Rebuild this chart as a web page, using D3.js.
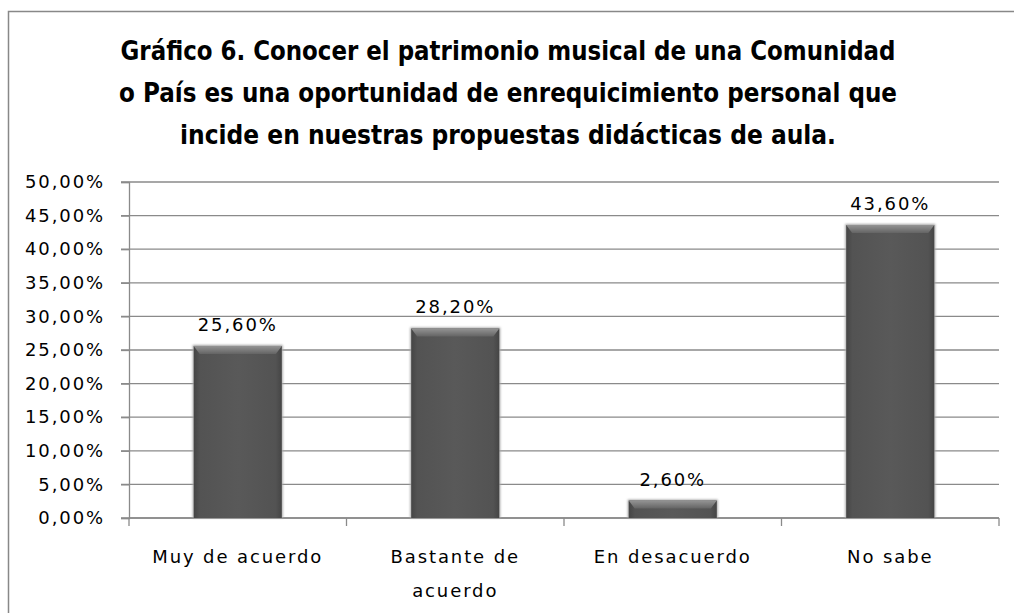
<!DOCTYPE html>
<html>
<head>
<meta charset="utf-8">
<script src="https://cdn.jsdelivr.net/npm/d3@7"></script>
<style>
  body { margin: 0; background: #fff; }
  svg { display: block; }
  text { font-family: "DejaVu Sans", sans-serif; fill: #000; }
</style>
</head>
<body>
<div id="chart"></div>
<script>
// data
const categories = ["Muy de acuerdo", "Bastante de acuerdo", "En desacuerdo", "No sabe"];
const values = [25.6, 28.2, 2.6, 43.6];
const yTicks = [0, 5, 10, 15, 20, 25, 30, 35, 40, 45, 50];
const titleLines = [
    "Gráfico 6. Conocer el patrimonio musical de una Comunidad",
    "o País es una oportunidad de enrequicimiento personal que",
    "incide en nuestras propuestas didácticas de aula."
];
const titleWidths = [775, 778, 656];

const W = 1014, H = 613;
const plotLeft = 129, plotRight = 999, plotTop = 182, plotBottom = 518;
const labelSize = 18, labelSpacing = 1.9;

const fmt = (v) => v.toFixed(2).replace(".", ",") + "%";

const svg = d3.select("#chart")
    .append("svg")
    .attr("width", W)
    .attr("height", H);

const defs = svg.append("defs");

const body = defs.append("linearGradient").attr("id", "barBody")
    .attr("x1", 0).attr("x2", 1).attr("y1", 0).attr("y2", 0);
[[0, "#454545"], [0.07, "#535353"], [0.5, "#595959"], [0.93, "#535353"], [1, "#454545"]]
    .forEach(([o, c]) => body.append("stop").attr("offset", o).attr("stop-color", c));

const bevel = defs.append("linearGradient").attr("id", "barTop")
    .attr("x1", 0).attr("x2", 0).attr("y1", 0).attr("y2", 1);
[[0, "#949494"], [1, "#646464"]]
    .forEach(([o, c]) => bevel.append("stop").attr("offset", o).attr("stop-color", c));

defs.append("filter").attr("id", "glow")
    .attr("x", "-20%").attr("y", "-20%").attr("width", "140%").attr("height", "140%")
    .append("feGaussianBlur").attr("stdDeviation", 1.2);

// outer frame
svg.append("rect")
    .attr("x", 8.5).attr("y", 11.5)
    .attr("width", 1030).attr("height", 640)
    .attr("fill", "none")
    .attr("stroke", "#888")
    .attr("stroke-width", 1.5);

// title
svg.append("g").selectAll("text")
    .data(titleLines)
    .join("text")
    .attr("x", 508)
    .attr("y", (d, i) => 60 + i * 42)
    .attr("text-anchor", "middle")
    .attr("font-family", "'Liberation Sans Narrow', 'Open Sans', sans-serif")
    .attr("font-size", 27)
    .attr("font-weight", "bold")
    .attr("textLength", (d, i) => titleWidths[i])
    .attr("lengthAdjust", "spacingAndGlyphs")
    .text((d) => d);

const x = d3.scaleBand()
    .domain(categories)
    .range([plotLeft, plotRight])
    .paddingInner(0.595)
    .paddingOuter(0.2975);

const y = d3.scaleLinear()
    .domain([0, 50])
    .range([plotBottom, plotTop]);

// gridlines
svg.append("g")
    .selectAll("line")
    .data(yTicks)
    .join("line")
    .attr("x1", plotLeft - 8)
    .attr("x2", plotRight)
    .attr("y1", (d) => y(d))
    .attr("y2", (d) => y(d))
    .attr("stroke", "#8a8a8a")
    .attr("stroke-width", 1.3);

// y axis
const yAxis = svg.append("g")
    .attr("transform", `translate(${plotLeft},0)`)
    .call(d3.axisLeft(y).tickValues(yTicks).tickSize(8).tickPadding(16).tickFormat(fmt));
yAxis.select(".domain").attr("stroke", "#8a8a8a").attr("stroke-width", 1.3);
yAxis.selectAll(".tick line").attr("stroke", "#8a8a8a").attr("stroke-width", 1.3);
yAxis.selectAll(".tick text")
    .attr("font-size", labelSize)
    .attr("letter-spacing", labelSpacing)
    .attr("font-family", "DejaVu Sans")
    .attr("fill", "#000");

// x axis baseline and ticks at band edges
const gap = (x.step() - x.bandwidth()) / 2;
const edges = categories.map((c) => x(c) - gap).concat([plotRight]);
svg.append("line")
    .attr("x1", plotLeft).attr("x2", plotRight)
    .attr("y1", plotBottom).attr("y2", plotBottom)
    .attr("stroke", "#8a8a8a").attr("stroke-width", 1.3);
svg.append("g").selectAll("line")
    .data(edges)
    .join("line")
    .attr("x1", (d) => d).attr("x2", (d) => d)
    .attr("y1", plotBottom).attr("y2", plotBottom + 8)
    .attr("stroke", "#8a8a8a").attr("stroke-width", 1.3);

// bars
const bars = svg.append("g")
    .selectAll("g")
    .data(categories.map((c, i) => ({ cat: c, value: values[i] })))
    .join("g");

bars.append("rect")
    .attr("x", (d) => x(d.cat) - 1)
    .attr("y", (d) => y(d.value) - 1)
    .attr("width", x.bandwidth() + 2)
    .attr("height", (d) => plotBottom - y(d.value) + 1)
    .attr("fill", "#a8a8a8")
    .attr("filter", "url(#glow)");

bars.append("rect")
    .attr("x", (d) => x(d.cat))
    .attr("y", (d) => y(d.value))
    .attr("width", x.bandwidth())
    .attr("height", (d) => plotBottom - y(d.value))
    .attr("fill", "url(#barBody)");

bars.append("path")
    .attr("d", (d) => {
        const x0 = x(d.cat), x1 = x0 + x.bandwidth(), t = y(d.value);
        const h = Math.min(8, (plotBottom - t) / 2);
        return `M${x0},${t}L${x1},${t}L${x1 - 6},${t + h}L${x0 + 6},${t + h}Z`;
    })
    .attr("fill", "url(#barTop)");

// value labels
bars.append("text")
    .attr("x", (d) => x(d.cat) + x.bandwidth() / 2)
    .attr("y", (d) => y(d.value) - 15)
    .attr("text-anchor", "middle")
    .attr("font-size", labelSize)
    .attr("letter-spacing", labelSpacing)
    .text((d) => fmt(d.value));

// category labels, wrapped when wider than the band
const catLabels = svg.append("g").selectAll("text")
    .data(categories)
    .join("text")
    .attr("x", (d) => x(d) + x.bandwidth() / 2)
    .attr("y", 563)
    .attr("text-anchor", "middle")
    .attr("font-size", labelSize)
    .attr("letter-spacing", labelSpacing);

catLabels.each(function (d) {
    const t = d3.select(this);
    const words = d.split(" ");
    let line = [];
    let tspan = t.append("tspan").attr("x", t.attr("x")).attr("dy", 0);
    words.forEach((w) => {
        line.push(w);
        tspan.text(line.join(" "));
        if (tspan.node().getComputedTextLength() > 180 && line.length > 1) {
            line.pop();
            tspan.text(line.join(" "));
            line = [w];
            tspan = t.append("tspan").attr("x", t.attr("x")).attr("dy", 34).text(w);
        }
    });
});
</script>
</body>
</html>
